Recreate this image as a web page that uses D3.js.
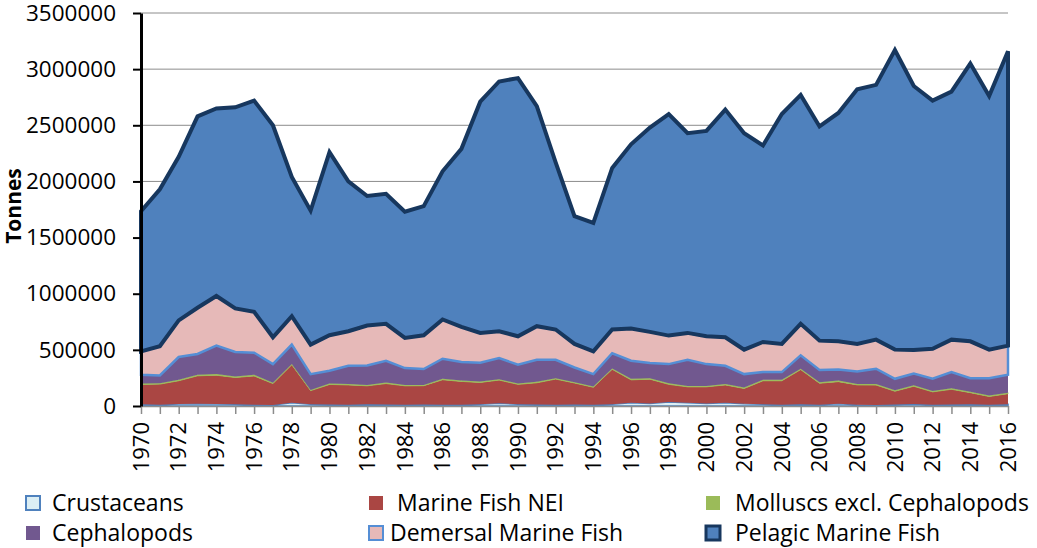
<!DOCTYPE html>
<meta charset="utf-8">
<style>
body { margin: 0; background: #fff; }
text { font-family: "Open Sans", sans-serif; fill: #000; }
.grid line { stroke: #8c8c8c; stroke-width: 1px; }
.axis--y path, .axis--y line { stroke: #000; }
.axis--y path { stroke-width: 3px; }
.axis--y line { stroke-width: 2px; }
.axis--x path, .axis--x line { stroke: #8c8c8c; stroke-width: 1.5px; }
</style>
<svg width="1037" height="548"></svg>
<script src="https://d3js.org/d3.v7.min.js"></script>
<script>
// values in thousands of tonnes
var years = d3.range(1970, 2017);
var crustaceans = [15,12,18,20,18,15,12,10,28,15,14,12,16,14,12,14,12,12,15,25,15,14,12,14,12,15,28,22,35,30,22,30,20,15,12,15,12,20,12,10,14,18,12,14,15,12,15];
var molluscs    = [8,8,8,9,10,9,10,6,5,6,8,9,8,9,8,7,8,7,8,8,7,8,8,7,6,8,9,9,10,8,8,9,8,8,8,8,9,10,9,10,8,9,8,9,9,8,9];
var marineNEI   = [177,183,207,249,256,239,256,190,340,122,178,176,164,186,168,167,222,207,195,206,178,193,228,191,155,312,205,217,158,141,149,158,136,210,213,309,191,197,176,177,118,158,114,135,104,73,95];
var cephalopods = [78,69,203,185,254,218,197,167,174,141,114,161,173,194,150,141,179,165,167,188,167,197,164,131,111,135,161,134,170,233,194,161,120,69,69,119,108,99,111,135,102,103,110,144,120,155,159];
var demersal    = [209,260,326,412,442,388,364,239,253,263,316,308,356,329,268,301,350,314,266,239,254,299,269,210,203,211,287,278,254,239,248,254,218,268,251,281,262,250,245,259,260,211,266,289,328,254,260];
var pelagic     = [1248,1398,1458,1705,1670,1791,1881,1888,1240,1193,1630,1334,1153,1158,1124,1150,1319,1585,2059,2224,2299,1959,1489,1137,1143,1439,1640,1820,1973,1779,1829,2028,1928,1750,2047,2038,1908,2034,2267,2269,2668,2351,2210,2209,2474,2258,2622];

var yTicks = [0, 500000, 1000000, 1500000, 2000000, 2500000, 3000000, 3500000];

var series = [
  {key: "crust", name: "Crustaceans", values: crustaceans, fill: "#dbeef4", stroke: "#4f81bd", sw: 1.5},
  {key: "nei", name: "Marine Fish NEI", values: marineNEI, fill: "#aa4643", stroke: "none", sw: 0},
  {key: "moll", name: "Molluscs excl. Cephalopods", values: molluscs, fill: "#9bbb59", stroke: "#9bbb59", sw: 1},
  {key: "ceph", name: "Cephalopods", values: cephalopods, fill: "#71588f", stroke: "none", sw: 0},
  {key: "dem", name: "Demersal Marine Fish", values: demersal, fill: "#e6b9b8", stroke: "#558ed5", sw: 2.5},
  {key: "pel", name: "Pelagic Marine Fish", values: pelagic, fill: "#4f81bd", stroke: "#17375e", sw: 4}
];

var table = years.map(function(yr, i) {
  var row = {year: yr};
  series.forEach(function(s) { row[s.key] = s.values[i] * 1000; });
  return row;
});

var svg = d3.select("svg"),
    margin = {top: 13, right: 29, bottom: 142, left: 141},
    width = +svg.attr("width") - margin.left - margin.right,
    height = +svg.attr("height") - margin.top - margin.bottom;

var x = d3.scaleLinear().domain([1970, 2016]).range([0, width]),
    y = d3.scaleLinear().domain([0, 3500000]).range([height, 0]);

var g = svg.append("g")
    .attr("transform", "translate(" + margin.left + "," + margin.top + ")");

g.append("g")
    .attr("class", "grid")
  .selectAll("line")
  .data(yTicks.slice(1))
  .enter().append("line")
    .attr("x1", 0).attr("x2", width)
    .attr("y1", function(d) { return y(d); })
    .attr("y2", function(d) { return y(d); });

var stacked = d3.stack().keys(series.map(function(s) { return s.key; }))(table);

var area = d3.area()
    .x(function(d) { return x(d.data.year); })
    .y0(function(d) { return y(d[0]); })
    .y1(function(d) { return y(d[1]); });

g.selectAll(".layer")
  .data(stacked)
  .enter().append("path")
    .attr("class", "layer")
    .attr("d", area)
    .attr("fill", function(d, i) { return series[i].fill; })
    .attr("stroke", function(d, i) { return series[i].stroke; })
    .attr("stroke-width", function(d, i) { return series[i].sw; })
    .attr("stroke-linejoin", "miter");

g.append("g")
    .attr("class", "axis axis--x")
    .attr("transform", "translate(0," + height + ")")
    .call(d3.axisBottom(x).tickValues(years).tickSize(8).tickSizeOuter(0).tickFormat(""));

g.append("g")
    .attr("class", "xlabels")
  .selectAll("text")
  .data(years.filter(function(d) { return d % 2 === 0; }))
  .enter().append("text")
    .attr("transform", function(d) { return "translate(" + x(d) + "," + (height + 16) + ") rotate(-90)"; })
    .attr("text-anchor", "end")
    .attr("dy", "0.35em")
    .style("font-size", "22px")
    .text(function(d) { return d; });

var yAxis = g.append("g")
    .attr("class", "axis axis--y")
    .call(d3.axisLeft(y).tickValues(yTicks).tickSize(8).tickSizeOuter(0).tickPadding(17).tickFormat(d3.format("d")));
yAxis.selectAll("text").style("font-size", "22.5px").style("font-family", "'Open Sans', sans-serif");

svg.append("text")
    .attr("transform", "translate(21,206) rotate(-90)")
    .attr("text-anchor", "middle")
    .style("font-size", "21px")
    .style("font-weight", "bold")
    .text("Tonnes");

// legend
var legendPos = [
  {mx: 26, tx: 52, y: 503},
  {mx: 369, tx: 397, y: 503},
  {mx: 706, tx: 735, y: 503},
  {mx: 26, tx: 52, y: 533},
  {mx: 369, tx: 390, y: 533},
  {mx: 706, tx: 735, y: 533}
];
var legendOrder = ["crust", "nei", "moll", "ceph", "dem", "pel"];

var legend = svg.append("g").attr("class", "legend")
  .selectAll("g")
  .data(legendOrder.map(function(k, i) {
    return {s: series.find(function(s) { return s.key === k; }), p: legendPos[i]};
  }))
  .enter().append("g");

legend.append("rect")
    .attr("x", function(d) { return d.p.mx; })
    .attr("y", function(d) { return d.p.y - 7; })
    .attr("width", 14).attr("height", 14)
    .attr("fill", function(d) { return d.s.fill; })
    .attr("stroke", function(d) { return d.s.stroke === "none" ? null : d.s.stroke; })
    .attr("stroke-width", function(d) { return d.s.key === "pel" ? 3 : (d.s.key === "moll" ? 0 : 2); });

legend.append("text")
    .attr("x", function(d) { return d.p.tx; })
    .attr("y", function(d) { return d.p.y; })
    .attr("dy", "0.35em")
    .style("font-size", "23px")
    .text(function(d) { return d.s.name; });
</script>
